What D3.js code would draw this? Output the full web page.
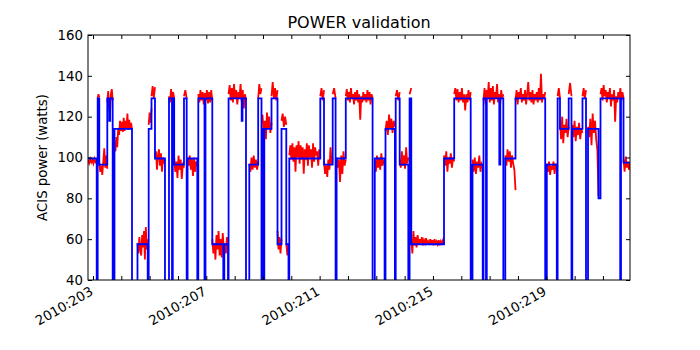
<!DOCTYPE html>
<html>
<head>
<meta charset="utf-8">
<script src="https://cdn.jsdelivr.net/npm/d3@7"></script>
<style>
  body { margin: 0; background: #fff; }
  text { font-family: "DejaVu Sans", sans-serif; fill: #000; }
</style>
</head>
<body>
<svg id="chart"></svg>
<script>
const width = 700,
  height = 350;
const plot = {left: 88, right: 630, top: 35, bottom: 280};

// Model power (blue step line): day of year 2010 and watts.
// 0 marks the short off-scale dips at state changes.
const modelTimes = [
  202.824, 203.131, 203.166, 203.222, 203.505, 203.575, 203.607, 203.695, 203.759, 204.377,
  204.571, 204.931, 204.966, 205.065, 205.188, 205.541, 205.683, 205.789, 205.817, 205.866,
  206.212, 206.307, 206.339, 206.682, 206.717, 206.936, 206.971, 207.211, 207.599, 207.635,
  207.765, 207.786, 208.249, 208.277, 208.401, 208.517, 208.831, 208.948, 208.983, 209.018,
  209.047, 209.301, 209.513, 209.654, 209.823, 209.901, 209.929, 211.023, 211.154, 211.461,
  211.563, 211.599, 211.923, 212.869, 212.947, 213.293, 213.325, 213.657, 213.685, 213.826,
  214.130, 214.175, 214.235, 215.390, 215.750, 216.332, 216.396, 216.756, 216.784, 216.872,
  216.900, 217.342, 217.377, 217.483, 217.553, 217.914, 218.962, 219.018, 219.371, 219.400,
  219.484, 219.791, 219.890, 219.918, 220.278, 220.402, 220.473, 220.843, 220.914, 221.609,
  221.637, 221.726, 221.955
];
const modelPower = [
  99.5, 0, 129, 96.5, 129, 118, 129, 0, 114, 0,
  57.5, 0, 114, 129, 99.5, 0, 129, 0, 129, 96.5,
  129, 0, 99.5, 0, 129, 0, 129, 57.5, 0, 57.5,
  0, 129, 118, 129, 0, 96.5, 129, 0, 114, 0,
  114, 129, 57.5, 114, 57.5, 0, 99.5, 129, 96.5, 129,
  0, 99.5, 129, 0, 99.5, 0, 114, 0, 129, 96.5,
  0, 129, 57.5, 99.5, 129, 0, 96.5, 0, 129, 0,
  129, 96.5, 129, 0, 99.5, 129, 0, 96.5, 0, 129,
  114, 129, 0, 114, 129, 0, 114, 80, 129, 0,
  129, 97.5, 97.5
];

// Telemetry (red): each stretch runs from telemStart to telemEnd,
// with the readings spread evenly over it.
const telemStart = [
  202.824, 203.166, 203.222, 203.505, 203.759, 204.571, 204.966, 205.065, 205.188, 205.683,
  205.866, 206.212, 206.339, 206.717, 207.211, 207.786, 208.517, 208.831, 208.983, 209.301,
  209.513, 209.654, 209.823, 209.929, 211.023, 211.154, 211.461, 211.599, 211.923, 212.947,
  213.325, 213.685, 213.826, 214.175, 214.235, 215.390, 215.750, 216.396, 216.784, 217.553,
  217.914, 219.018, 219.400, 219.484, 219.791, 219.918, 220.278, 220.473, 220.914, 221.726
];
const telemEnd = [
  203.131, 203.222, 203.505, 203.695, 204.377, 204.931, 205.065, 205.188, 205.541, 205.866,
  206.212, 206.307, 206.682, 207.211, 207.765, 208.401, 208.831, 208.948, 209.301, 209.513,
  209.654, 209.823, 209.901, 211.023, 211.154, 211.461, 211.563, 211.923, 212.869, 213.293,
  213.657, 213.826, 214.130, 214.235, 215.390, 215.750, 216.332, 216.756, 217.483, 217.914,
  218.962, 219.371, 219.484, 219.791, 219.890, 220.278, 220.402, 220.843, 221.726, 221.955
];
const telemPower = [
  [98.8, 97.2, 99.3, 97.6, 98.9, 97.1, 99.4, 97.8, 98.5],
  [129, 131, 129.5],
  [97.5, 93, 96, 91.5, 98, 104.5, 95, 101, 94.5],
  [127, 132.5, 124, 121, 131, 133.5, 128],
  [106, 103, 110, 105, 114, 111, 118, 113, 117.5, 112.5, 119.5, 113, 118, 114, 121.5, 113.5, 118.5, 114, 117, 113.5],
  [58, 53, 61, 55, 52, 62, 56, 64, 50, 66, 55, 60],
  [116, 122, 117, 124],
  [130, 135, 129, 134.5],
  [100, 103, 94, 101, 104, 96, 102, 93, 100, 97, 99],
  [130, 127, 133.5, 128, 132, 129],
  [100, 93, 98, 90, 101, 94, 99, 89.5, 97.5, 95],
  [130, 133, 129],
  [100, 96, 101, 94, 99.5, 91, 100, 93, 98, 96],
  [131, 127, 133, 128, 132, 126, 131.5, 128, 133, 126.5, 132, 127, 133, 128],
  [60, 53, 58, 50, 62, 55, 64, 52, 60, 51, 63, 55, 58, 53, 61, 57],
  [131, 135.5, 128, 134, 127, 136, 129, 133, 126, 132, 129, 136, 127.5, 133, 124, 131, 128],
  [97, 93, 100, 94, 101, 95, 99, 94, 98],
  [129, 136, 131, 134],
  [121, 112, 118, 109, 122, 114, 120, 112, 117],
  [130, 137, 129, 134, 128, 133],
  [64, 55, 61, 53, 60],
  [118, 121.5, 115, 120, 116],
  [58, 52, 57],
  [101, 106, 99, 107, 98, 105, 93, 106, 100, 108, 97, 106, 99, 105, 92, 104, 99, 107, 96, 106, 100, 104, 95, 107, 98, 105, 101, 103, 96, 104, 100],
  [130, 134, 128, 133],
  [98, 92, 96, 90.5, 99, 94, 105, 97, 100],
  [131, 134, 129],
  [100, 95, 99, 88, 101, 92, 103, 96, 99],
  [130, 133.5, 128, 132, 127, 134, 129, 131, 126, 132, 128, 133, 127, 131, 118.5, 130, 127, 132, 128, 131, 127, 133, 128, 132, 126, 131, 129],
  [99, 93, 101, 95, 100, 94, 102, 96, 98, 97],
  [113, 118, 111, 121, 114, 119, 112, 118, 115],
  [130, 133, 128, 132],
  [99, 95, 103, 96, 101, 94.5, 105, 97, 100],
  [131, 134],
  [60, 53, 64, 57, 61, 56, 62, 57.5, 60, 58, 61, 57, 59.5, 58, 60.5, 57.5, 59, 58, 60, 57.5, 59.5, 57, 60, 58, 59, 57.5, 59.5, 57, 59, 58, 59.5, 57.5],
  [101, 96, 103, 93, 100, 97, 102, 95, 100, 98],
  [131, 134, 128, 133.5, 127, 132, 128, 134, 127, 131, 123, 131, 127, 133, 128, 132],
  [99, 93, 100, 92, 98, 95, 101, 93, 97, 96],
  [128, 134, 126, 133, 129, 137, 127, 134, 128, 135, 126, 132, 129, 136, 127, 131, 126, 133, 129, 131],
  [101, 96, 104, 98, 103, 95, 101, 97, 94, 84],
  [128, 133, 126, 132, 129, 134, 127, 131, 128, 133, 126, 131, 137, 128, 132, 127, 133, 126, 131, 128, 132, 127, 134, 128, 141, 127, 131, 129, 132],
  [97, 93, 98, 91.5, 96, 94, 98, 92, 97, 95],
  [130, 134, 129],
  [118, 109, 120, 107, 116, 112, 119, 110, 115],
  [131, 136.5, 130],
  [116, 110, 118, 108, 115, 111, 117, 109, 114, 112],
  [130, 134, 129, 133],
  [115, 110, 119, 106, 121.5, 112, 118, 109, 104, 81],
  [131, 134, 128, 135.5, 130, 133, 127, 132, 129, 134, 125, 131, 128, 133, 117.5, 130, 127, 132, 129, 134, 128, 132, 129],
  [99, 93, 100.5, 95, 98, 94, 97]
];

const dayTicks = [203, 204, 205, 206, 207, 208, 209, 210, 211, 212, 213, 214, 215, 216, 217, 218, 219, 220, 221];
const labelDays = [203, 207, 211, 215, 219];
const yTicks = [40, 60, 80, 100, 120, 140, 160];

const svg = d3.select("#chart")
  .attr("width", width)
  .attr("height", height);

const x = d3.scaleLinear()
  .domain([modelTimes[0], modelTimes[modelTimes.length - 1]])
  .range([plot.left, plot.right]);
const y = d3.scaleLinear()
  .domain([40, 160])
  .range([plot.bottom, plot.top]);

svg.append("clipPath").attr("id", "clip")
  .append("rect")
  .attr("x", plot.left).attr("y", plot.top)
  .attr("width", plot.right - plot.left)
  .attr("height", plot.bottom - plot.top);

// one path per telemetry stretch, readings spread evenly over it
const stretches = telemPower.map((vals, i) => {
  const n = vals.length;
  return vals.map((v, j) => [telemStart[i] + (telemEnd[i] - telemStart[i]) * j / (n - 1), v]);
});

const telemLine = d3.line().x(d => x(d[0])).y(d => y(d[1]));
svg.append("g")
  .attr("clip-path", "url(#clip)")
  .selectAll("path")
  .data(stretches)
  .enter().append("path")
  .attr("fill", "none")
  .attr("stroke", "#ff0000")
  .attr("stroke-width", 1.8)
  .attr("d", telemLine);

const model = modelTimes.map((t, i) => [t, modelPower[i]]);
svg.append("path")
  .datum(model)
  .attr("clip-path", "url(#clip)")
  .attr("fill", "none")
  .attr("stroke", "#0000ff")
  .attr("stroke-width", 1.8)
  .attr("d", d3.line().curve(d3.curveStepAfter).x(d => x(d[0])).y(d => y(d[1])));

// axes, ticks pointing inward on all four sides
function inward(g) {
  g.select(".domain").remove();
  g.selectAll(".tick line").attr("stroke", "#000");
}
svg.append("g")
  .attr("transform", `translate(0,${plot.bottom})`)
  .call(d3.axisBottom(x).tickValues(dayTicks).tickSize(-4).tickFormat(""))
  .call(inward);
svg.append("g")
  .attr("transform", `translate(0,${plot.top})`)
  .call(d3.axisTop(x).tickValues(dayTicks).tickSize(-4).tickFormat(""))
  .call(inward);
svg.append("g")
  .attr("transform", `translate(${plot.left},0)`)
  .call(d3.axisLeft(y).tickValues(yTicks).tickSize(-4).tickFormat(""))
  .call(inward);
svg.append("g")
  .attr("transform", `translate(${plot.right},0)`)
  .call(d3.axisRight(y).tickValues(yTicks).tickSize(-4).tickFormat(""))
  .call(inward);

svg.append("rect")
  .attr("x", plot.left).attr("y", plot.top)
  .attr("width", plot.right - plot.left)
  .attr("height", plot.bottom - plot.top)
  .attr("fill", "none")
  .attr("stroke", "#000")
  .attr("stroke-width", 1);

// y tick labels
svg.selectAll("text.ylab")
  .data(yTicks)
  .enter().append("text")
  .attr("class", "ylab")
  .attr("x", plot.left - 5)
  .attr("y", d => y(d))
  .attr("dy", "0.36em")
  .attr("text-anchor", "end")
  .style("font-size", "13.3px")
  .text(d => d);

// x tick labels, rotated like autofmt_xdate
svg.selectAll("text.xlab")
  .data(labelDays)
  .enter().append("text")
  .attr("class", "xlab")
  .attr("text-anchor", "end")
  .attr("transform", d => `translate(${x(d) + 1},${plot.bottom + 14}) rotate(-30)`)
  .style("font-size", "13.3px")
  .text(d => "2010:" + d);

svg.append("text")
  .attr("x", (plot.left + plot.right) / 2)
  .attr("y", 28)
  .attr("text-anchor", "middle")
  .style("font-size", "16px")
  .text("POWER validation");

svg.append("text")
  .attr("transform", `translate(47,${(plot.top + plot.bottom) / 2}) rotate(-90)`)
  .attr("text-anchor", "middle")
  .style("font-size", "13.3px")
  .text("ACIS power (watts)");
</script>
</body>
</html>
